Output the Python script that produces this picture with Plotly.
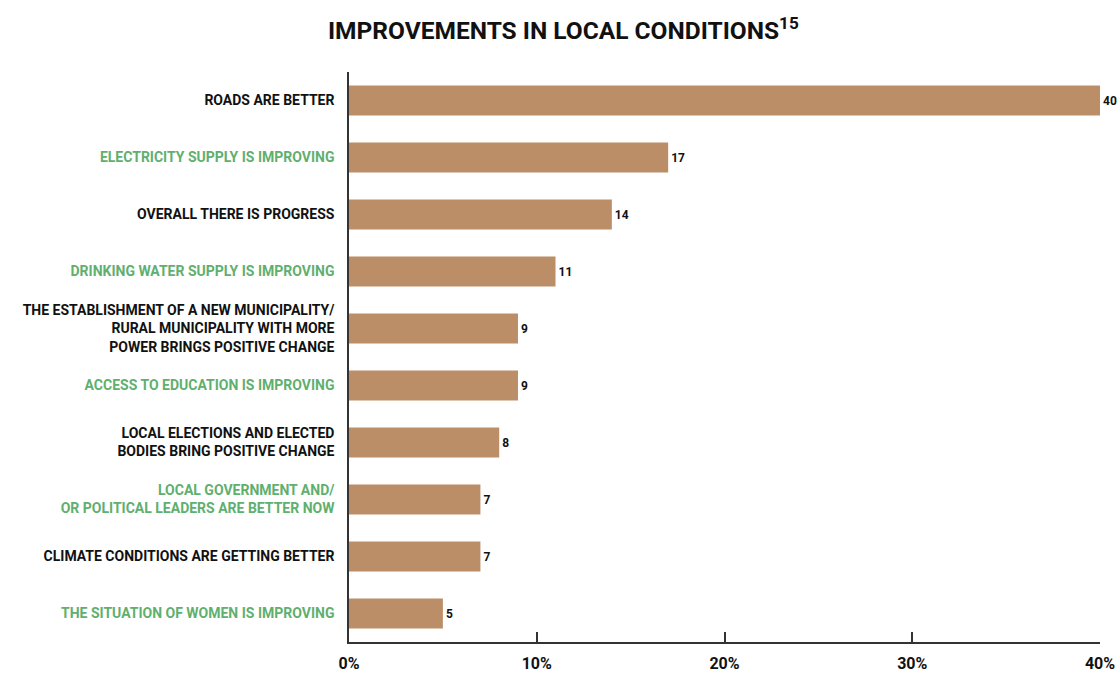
import plotly.graph_objects as go

# Survey answers, top to bottom
categories = [
    "ROADS ARE BETTER",
    "ELECTRICITY SUPPLY IS IMPROVING",
    "OVERALL THERE IS PROGRESS",
    "DRINKING WATER SUPPLY IS IMPROVING",
    "THE ESTABLISHMENT OF A NEW MUNICIPALITY/<br>RURAL MUNICIPALITY WITH MORE<br>POWER BRINGS POSITIVE CHANGE",
    "ACCESS TO EDUCATION IS IMPROVING",
    "LOCAL ELECTIONS AND ELECTED<br>BODIES BRING POSITIVE CHANGE",
    "LOCAL GOVERNMENT AND/<br>OR POLITICAL LEADERS ARE BETTER NOW",
    "CLIMATE CONDITIONS ARE GETTING BETTER",
    "THE SITUATION OF WOMEN IS IMPROVING",
]
values = [40, 17, 14, 11, 9, 9, 8, 7, 7, 5]
x_ticks = [0, 10, 20, 30, 40]
x_tick_labels = ["0%", "10%", "20%", "30%", "40%"]

FONT = "Roboto"
BAR = "#BC8E67"
GREEN = "#5FAF6E"
DARK = "#111111"

positions = list(range(len(categories)))
label_colors = [DARK if i % 2 == 0 else GREEN for i in positions]
tick_text = [
    "<br>".join(f"<span style='color:{c}'>{ln}</span>" for ln in t.split("<br>"))
    for t, c in zip(categories, label_colors)
]

fig = go.Figure(
    go.Bar(
        x=values,
        y=positions,
        orientation="h",
        marker=dict(color=BAR, line=dict(width=0)),
        width=0.53,
        text=[str(v) for v in values],
        textposition="outside",
        textfont=dict(family=FONT, size=12, color=DARK, weight="bold"),
        cliponaxis=False,
        hoverinfo="skip",
    )
)

fig.update_layout(
    width=1120,
    height=675,
    margin=dict(l=349, r=20, t=72, b=33),
    paper_bgcolor="white",
    plot_bgcolor="white",
    showlegend=False,
    font=dict(family=FONT, color=DARK, weight="bold"),
    title=dict(
        text="IMPROVEMENTS IN LOCAL CONDITIONS<sup>15</sup>",
        x=0.503,
        xref="container",
        xanchor="center",
        y=0.955,
        yanchor="middle",
        font=dict(family=FONT, size=24.5, color=DARK, weight="bold"),
    ),
)

fig.update_xaxes(
    range=[0, 40],
    tickvals=x_ticks,
    ticktext=x_tick_labels,
    tickfont=dict(family=FONT, size=16, color=DARK, weight="bold"),
    ticks="inside",
    ticklen=10,
    tickwidth=1.5,
    tickcolor="#333333",
    ticklabelstandoff=6,
    showline=True,
    linecolor="#333333",
    linewidth=1.5,
    showgrid=False,
    zeroline=False,
    automargin=False,
)

fig.update_yaxes(
    range=[len(categories) - 0.5, -0.5],
    tickvals=positions,
    ticktext=tick_text,
    tickfont=dict(family=FONT, size=14, weight="bold"),
    ticks="",
    ticklabelstandoff=10,
    showline=True,
    linecolor="#333333",
    linewidth=1.5,
    showgrid=False,
    zeroline=False,
    automargin=False,
)

fig.write_html("out.html")
